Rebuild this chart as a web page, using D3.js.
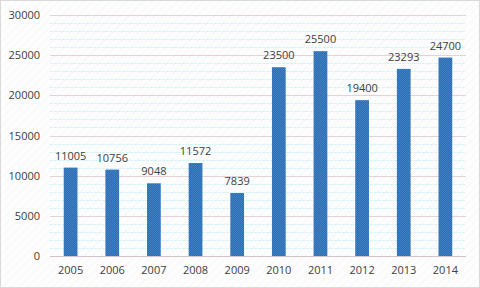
<!DOCTYPE html>
<html>
<head>
<meta charset="utf-8">
<script src="https://cdn.jsdelivr.net/npm/d3@7"></script>
<style>
  body { margin: 0; background: #fff; }
  text { font-family: "Open Sans", "Noto Sans", sans-serif; fill: #404040; }
</style>
</head>
<body>
<div id="chart"></div>
<script>
var years = ['2005', '2006', '2007', '2008', '2009', '2010', '2011', '2012', '2013', '2014'];
var values = [11005, 10756, 9048, 11572, 7839, 23500, 25500, 19400, 23293, 24700];
var yTicks = [0, 5000, 10000, 15000, 20000, 25000, 30000];

var svgWidth = 480;
var svgHeight = 288;
var margin = { top: 15, bottom: 32, right: 14, left: 50 };
var width = svgWidth - margin.left - margin.right;
var height = svgHeight - margin.top - margin.bottom;

var svg = d3.select('#chart')
    .append('svg')
    .attr('width', svgWidth)
    .attr('height', svgHeight);

var defs = svg.append('defs');

// faint diagonal background texture
var bg = defs.append('pattern')
    .attr('id', 'bgHatch')
    .attr('width', 6).attr('height', 6)
    .attr('patternUnits', 'userSpaceOnUse')
    .attr('patternTransform', 'rotate(45)');
bg.append('rect').attr('width', 6).attr('height', 6).attr('fill', '#fdfdfd');
bg.append('line').attr('x1', 0).attr('y1', 0).attr('x2', 0).attr('y2', 6)
    .attr('stroke', '#f1f1f1').attr('stroke-width', 1);

// checkered bar fill
var chk = defs.append('pattern')
    .attr('id', 'barFill')
    .attr('width', 2).attr('height', 2)
    .attr('patternUnits', 'userSpaceOnUse');
chk.append('rect').attr('width', 2).attr('height', 2).attr('fill', '#3f80c6');
chk.append('rect').attr('width', 1).attr('height', 1).attr('fill', '#2e6cb0');
chk.append('rect').attr('x', 1).attr('y', 1).attr('width', 1).attr('height', 1).attr('fill', '#2e6cb0');

svg.append('rect')
    .attr('x', 0.5).attr('y', 0.5)
    .attr('width', svgWidth - 1).attr('height', svgHeight - 1)
    .attr('fill', 'url(#bgHatch)')
    .attr('stroke', '#d9d9d9');

var chartGroup = svg.append('g')
    .attr('transform', `translate(${margin.left}, ${margin.top})`);

var xScale = d3.scaleBand()
    .domain(years)
    .range([0, width])
    .paddingInner(0.67)
    .paddingOuter(0.33);

var yScale = d3.scaleLinear()
    .domain([0, 30000])
    .range([height, 0]);

// minor grid lines every 1000
var minor = d3.range(1000, 30000, 1000).filter(d => d % 5000 !== 0);
chartGroup.selectAll('line.minor')
    .data(minor)
    .enter()
    .append('line')
    .attr('class', 'minor')
    .attr('x1', 0).attr('x2', width)
    .attr('y1', d => Math.round(yScale(d)) + 0.5)
    .attr('y2', d => Math.round(yScale(d)) + 0.5)
    .attr('stroke', '#d3f4f7')
    .attr('stroke-dasharray', '3,1');

// major grid lines
chartGroup.selectAll('line.major')
    .data(yTicks)
    .enter()
    .append('line')
    .attr('class', 'major')
    .attr('x1', 0).attr('x2', width)
    .attr('y1', d => Math.round(yScale(d)) + 0.5)
    .attr('y2', d => Math.round(yScale(d)) + 0.5)
    .attr('stroke', d => d === 0 ? '#cfc4c8' : '#e3d3d7');

var yAxis = d3.axisLeft(yScale).tickValues(yTicks).tickFormat(d3.format('d')).tickSize(0).tickPadding(10);
chartGroup.append('g')
    .call(yAxis)
    .call(g => g.select('.domain').remove())
    .selectAll('text')
    .attr('font-size', 11)
    .attr('fill', '#404040');

var xAxis = d3.axisBottom(xScale).tickSize(0).tickPadding(10);
chartGroup.append('g')
    .attr('transform', `translate(0,${height})`)
    .call(xAxis)
    .call(g => g.select('.domain').remove())
    .selectAll('text')
    .attr('font-size', 11)
    .attr('fill', '#404040');

chartGroup.selectAll('rect.bar')
    .data(values)
    .enter()
    .append('rect')
    .attr('class', 'bar')
    .attr('x', (d, i) => xScale(years[i]))
    .attr('y', d => yScale(d))
    .attr('width', xScale.bandwidth())
    .attr('height', d => height - yScale(d))
    .attr('fill', 'url(#barFill)');

chartGroup.selectAll('text.valueText')
    .data(values)
    .enter()
    .append('text')
    .attr('class', 'valueText')
    .attr('x', (d, i) => xScale(years[i]) + xScale.bandwidth() / 2)
    .attr('y', d => yScale(d) - 8)
    .attr('text-anchor', 'middle')
    .attr('font-size', 11)
    .text(d => d);
</script>
</body>
</html>
